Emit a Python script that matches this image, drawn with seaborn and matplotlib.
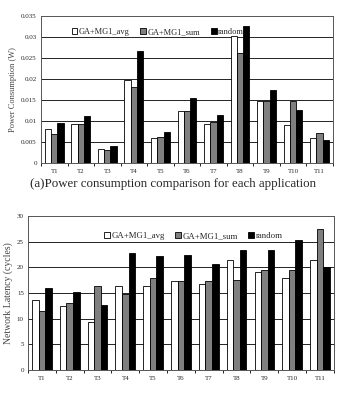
import numpy as np
import pandas as pd
import matplotlib
matplotlib.use("Agg")
import matplotlib.pyplot as plt
import seaborn as sns
from matplotlib.ticker import FixedLocator

sns.set_theme(style="white")
plt.rcParams['font.family'] = ['Liberation Serif', 'DejaVu Serif']

categories = ["T1", "T2", "T3", "T4", "T5", "T6", "T7", "T8", "T9", "T10", "T11"]
series = ["GA+MG1_avg", "GA+MG1_sum", "random"]
bottom_series = ["GA+MG1_avg", "GA+MG1_sum", "random"]

power_avg = [0.0080, 0.0092, 0.0034, 0.0197, 0.0059, 0.0123, 0.0092, 0.0303, 0.0147, 0.0090, 0.0059]
power_sum = [0.0068, 0.0092, 0.0030, 0.0182, 0.0063, 0.0125, 0.0098, 0.0263, 0.0147, 0.0147, 0.0071]
power_rnd = [0.0095, 0.0113, 0.0041, 0.0267, 0.0075, 0.0155, 0.0114, 0.0327, 0.0175, 0.0127, 0.0055]

lat_avg = [13.7, 12.4, 9.4, 16.3, 16.3, 17.3, 16.8, 21.4, 19.0, 18.0, 21.4]
lat_sum = [11.5, 13.1, 16.3, 14.8, 18.0, 17.4, 17.4, 17.6, 19.4, 19.4, 27.4]
lat_rnd = [15.9, 15.2, 12.7, 22.7, 22.1, 22.4, 20.6, 23.4, 23.4, 25.3, 20.1]

power_ticks = [0, 0.005, 0.01, 0.015, 0.02, 0.025, 0.03, 0.035]
power_tick_labels = ["0", "0.005", "0.01", "0.015", "0.02", "0.025", "0.03", "0.035"]
lat_ticks = [0, 5, 10, 15, 20, 25, 30]
lat_tick_labels = ["0", "5", "10", "15", "20", "25", "30"]

colors = ["white", "#7f7f7f", "black"]


def long_df(a, b, c, names):
    rows = []
    for name, vals in zip(names, [a, b, c]):
        for cat, v in zip(categories, vals):
            rows.append({"cat": cat, "series": name, "value": v})
    return pd.DataFrame(rows)


fig = plt.figure(figsize=(3.46, 3.94), dpi=100)
ax1 = fig.add_axes([0.1185, 0.5863, 0.8435, 0.373])
ax2 = fig.add_axes([0.081, 0.061, 0.884, 0.391])


def style(ax, df, ticks, labels, ylabel, ylabel_size, legend_anchor, legend_size, colsp):
    sns.barplot(data=df, x="cat", y="value", hue="series", palette=colors,
                edgecolor="black", linewidth=0.6, width=0.71, ax=ax, zorder=3)
    ax.set_ylim(ticks[0], ticks[-1])
    ax.set_xlim(-0.5, len(categories) - 0.5)
    ax.set_yticks(ticks)
    ax.set_yticklabels(labels, fontsize=5)
    ax.tick_params(axis="x", length=0, labelsize=5, pad=4)
    ax.tick_params(axis="y", length=0, pad=3)
    ax.xaxis.set_minor_locator(FixedLocator(np.arange(-0.5, len(categories), 1.0)))
    ax.tick_params(axis="x", which="minor", length=2, width=0.6, direction="out", color="black", bottom=True)
    for y in ticks[1:-1]:
        ax.axhline(y, color="black", linewidth=0.6, zorder=1)
    for s in ax.spines.values():
        s.set_color("#555555")
        s.set_linewidth(0.7)
    ax.set_xlabel("")
    ax.set_ylabel(ylabel, fontsize=ylabel_size, color="#444444", labelpad=3)
    h, l = ax.get_legend_handles_labels()
    leg = ax.legend(h, l, loc="upper center", bbox_to_anchor=legend_anchor, ncol=3,
                    frameon=False, fontsize=legend_size, handlelength=0.7, handleheight=0.7,
                    handletextpad=0.15, columnspacing=colsp, borderaxespad=0)
    leg.set_zorder(10)


style(ax1, long_df(power_avg, power_sum, power_rnd, series), power_ticks,
      power_tick_labels, "Power Consumption (W)", 6, (0.40, 0.94), 6, 1.3)
style(ax2, long_df(lat_avg, lat_sum, lat_rnd, bottom_series), lat_ticks,
      lat_tick_labels, "Network Latency (cycles)", 7, (0.54, 0.92), 6.3, 1.2)

fig.text(0.5, 0.532, "(a)Power consumption comparison for each application",
         ha="center", va="center", fontsize=9.3)

fig.savefig("out.png", dpi=100)
